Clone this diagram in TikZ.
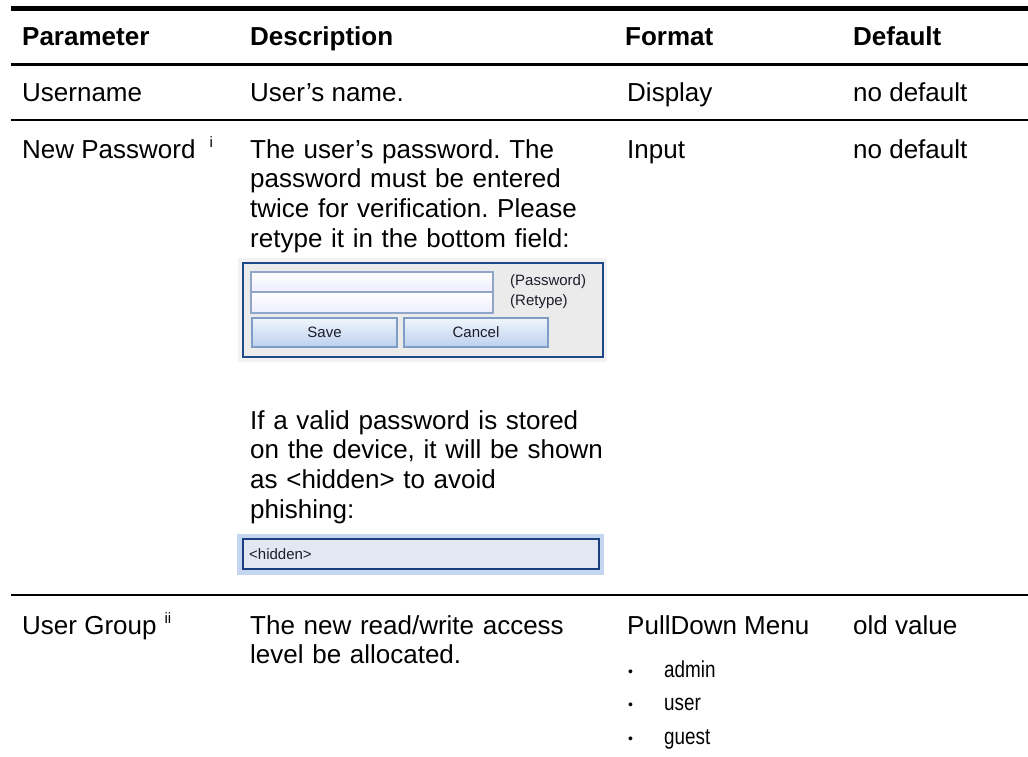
\documentclass[tikz,border=0pt]{standalone}
\usepackage{fontspec}
\setmainfont{Liberation Sans}
\newfontfamily\narrowfont[FakeStretch=0.82]{Liberation Sans}

\definecolor{frameblue}{HTML}{1E4A8C}
\definecolor{panelgray}{HTML}{EBEBEB}
\definecolor{halogray}{HTML}{F2F2F2}
\definecolor{fieldedge}{HTML}{8FA6C8}
\definecolor{btntop}{HTML}{F0F5FC}
\definecolor{btnbot}{HTML}{BCD1EE}
\definecolor{btnedge}{HTML}{7E9CC6}
\definecolor{halo}{HTML}{C4D6F0}
\definecolor{hiddenfill}{HTML}{E2E8F2}
\definecolor{hiddenedge}{HTML}{1B3F7E}
\definecolor{uitext}{HTML}{1C1C2A}

\tikzset{
  body/.style={inner sep=0pt, anchor=base west, font=\fontsize{26}{29.7}\selectfont},
  head/.style={inner sep=0pt, anchor=base west, font=\fontsize{26}{29.7}\selectfont\bfseries},
  para/.style={body, text width=370pt, align=left},
  item/.style={inner sep=0pt, anchor=base west, font=\narrowfont\fontsize{23}{26}\selectfont},
  dot/.style={inner sep=0pt, anchor=base west, font=\fontsize{14}{16}\selectfont},
  ui/.style={inner sep=0pt, font=\fontsize{15}{17}\selectfont, text=uitext},
  field/.style={draw=fieldedge, line width=1.2pt, top color=white, bottom color=white!93!blue},
  button/.style={draw=btnedge, line width=1.2pt, top color=btntop, bottom color=btnbot},
}
\newcommand{\supmark}[1]{\raisebox{11pt}{\fontsize{15}{15}\selectfont #1}}

\begin{document}
\frenchspacing
\begin{tikzpicture}[x=1pt,y=-1pt]
\useasboundingbox (0,0) rectangle (1028,756);

% horizontal rules of the table
\draw[line width=5pt] (11,8.5) -- (1028,8.5);
\draw[line width=3pt] (11,64) -- (1028,64);
\draw[line width=2.2pt] (11,120) -- (1028,120);
\draw[line width=2.8pt] (11,595) -- (1028,595);

% header row
\node[head] (hparam) at (22,45) {Parameter};
\node[head] (hdesc)  at (250,45) {Description};
\node[head] (hfmt)   at (625,45) {Format};
\node[head] (hdef)   at (853,45) {Default};

% username row
\node[body] (uname)  at (22,101) {Username};
\node[body] (udesc)  at (250,101) {User’s name.};
\node[body] (ufmt)   at (627,101) {Display};
\node[body] (udef)   at (853,101) {no default};

% new password row
\node[body] (pname) at (22,158) {New Password\hspace{14pt}\supmark{i}};
\node[para] (pdesc) at (250,158) {The user’s password. The\\password must be entered\\twice for verification. Please\\retype it in the bottom field:};
\node[body] (pfmt)  at (627,158) {Input};
\node[body] (pdef)  at (853,158) {no default};

% password entry panel
\fill[halogray] (238,258) rectangle (607,362);
\draw[frameblue, line width=2.5pt, fill=panelgray] (243,263) rectangle (603,357);
\draw[field] (251,272) rectangle (493,292);
\draw[field] (251,292) rectangle (493,313);
\node[ui, anchor=base west] (lpw) at (510,285) {(Password)};
\node[ui, anchor=base west] (lrt) at (510,305) {(Retype)};
\draw[button] (252,318) rectangle (397,347);
\draw[button] (404,318) rectangle (548,347);
\node[ui] (save)   at (324.5,332.5) {Save};
\node[ui] (cancel) at (476,332.5) {Cancel};

\node[para] (hdesc2) at (250,429) {If a valid password is stored\\on the device, it will be shown\\as <hidden> to avoid\\phishing:};

% hidden password field
\fill[halo] (237,534) rectangle (604,575);
\draw[hiddenedge, line width=2.2pt, fill=hiddenfill] (243,539) rectangle (599,569);
\node[ui, anchor=west] (hid) at (249,554) {<hidden>};

% user group row
\node[body] (gname) at (22,634) {User Group\hspace{8pt}\supmark{ii}};
\node[para] (gdesc) at (250,634) {The new read/write access\\level be allocated.};
\node[body] (gfmt)  at (627,634) {PullDown Menu};
\node[body] (gdef)  at (853,634) {old value};

\node[dot]  (b1) at (628,676) {•};
\node[item] (i1) at (664,677) {admin};
\node[dot]  (b2) at (628,709) {•};
\node[item] (i2) at (664,710) {user};
\node[dot]  (b3) at (628,743) {•};
\node[item] (i3) at (664,744) {guest};
\end{tikzpicture}
\end{document}
